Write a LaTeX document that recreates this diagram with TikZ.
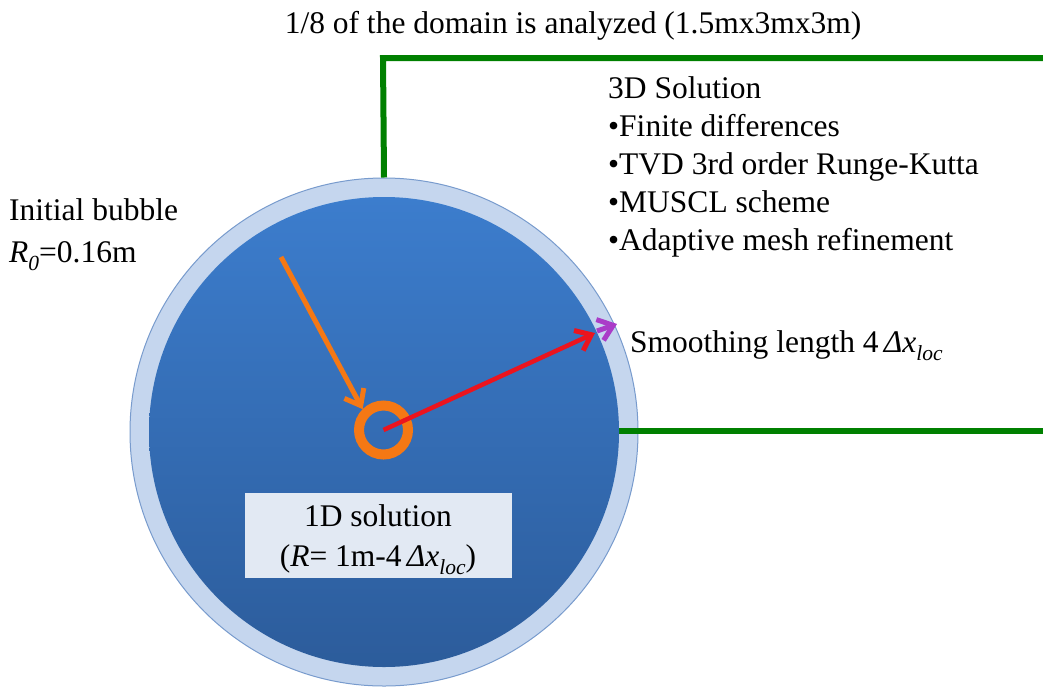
\documentclass[tikz,border=0pt]{standalone}
\usepackage{fontspec}
\setmainfont{Liberation Serif}
\usetikzlibrary{arrows.meta}
\newcommand\mysub[1]{\raisebox{-0.28em}{\fontsize{21.5}{21.5}\selectfont\itshape #1}}
\definecolor{dgreen}{RGB}{0,128,0}
\definecolor{ringblue}{RGB}{197,214,238}
\definecolor{ringedge}{RGB}{120,155,205}
\definecolor{blueTop}{RGB}{60,125,205}
\definecolor{blueBot}{RGB}{44,92,155}
\definecolor{boxfill}{RGB}{226,233,243}
\definecolor{arrorange}{RGB}{245,120,20}
\definecolor{arrred}{RGB}{235,20,30}
\definecolor{arrpurple}{RGB}{170,60,200}
\tikzset{
  txt/.style={font=\fontsize{31.5}{38}\selectfont, inner sep=0pt, text=black},
  greenline/.style={draw=dgreen, line width=6pt},
  barb/.style={-{Straight Barb[length=14pt,width=22pt,line width=5pt]}, line width=5pt},
}
\begin{document}
\begin{tikzpicture}[x=1pt,y=-1pt]
\useasboundingbox (0,0) rectangle (1043,688);
% green domain lines
\coordinate (gtopR) at (1043,58);
\coordinate (gtopL) at (383,58);
\coordinate (gbotR) at (1043,431);
\coordinate (gbotL) at (612,431);
% outer ring
\node[circle, minimum size=508pt, inner sep=0pt, fill=ringblue, draw=ringedge, line width=1pt] (domain) at (384,432) {};
\draw[greenline] (domain.north) -- (gtopL) -- (gtopR);
\draw[greenline] (gbotL) -- (gbotR);
% inner dark circle
\node[circle, minimum size=470pt, inner sep=0pt, top color=blueTop, bottom color=blueBot] (core) at (384,432) {};
% 1D box
\node[fill=boxfill, minimum width=267pt, minimum height=85pt, inner sep=0pt] (box) at (378.5,535.5) {};
\node[txt, align=center, anchor=base] (b1) at (378,526) {1D solution};
\node[txt, anchor=base] (b2) at (378,566) {(\textit{R}= 1m-4\,\textit{Δx}\mysub{loc})};
% bubble ring
\node[circle, draw=arrorange, line width=10pt, minimum size=49pt, inner sep=0pt] (bubble) at (383.5,430) {};
% title text
\node[txt, anchor=base] (title) at (573,33) {1/8 of the domain is analyzed (1.5mx3mx3m)};
% 3D list
\node[txt, anchor=base west] (s1) at (608,98) {3D Solution};
\node[txt, anchor=base west] (s2) at (608,136) {•Finite differences};
\node[txt, anchor=base west] (s3) at (608,174) {•TVD 3rd order Runge-Kutta};
\node[txt, anchor=base west] (s4) at (608,212) {•MUSCL scheme};
\node[txt, anchor=base west] (s5) at (608,250) {•Adaptive mesh refinement};
% initial bubble
\node[txt, anchor=base west] (ib1) at (9,220) {Initial bubble};
\node[txt, anchor=base west] (ib2) at (9,262) {\textit{R}\mysub{0}=0.16m};
% smoothing
\node[txt, anchor=base west] (sm) at (630,352) {Smoothing length 4\,\textit{Δx}\mysub{loc}};
% arrows
\coordinate (oStart) at (281,257);
\draw[barb, draw=arrorange] (oStart) -- (bubble.north west);
\coordinate (rEnd) at (595,333);
\draw[barb, draw=arrred, line width=4.5pt] (bubble.center) -- (rEnd);
\coordinate (pStart) at (597,331);
\coordinate (pEnd) at (617,324);
\draw[barb, draw=arrpurple] (pStart) -- (pEnd);
\end{tikzpicture}
\end{document}
